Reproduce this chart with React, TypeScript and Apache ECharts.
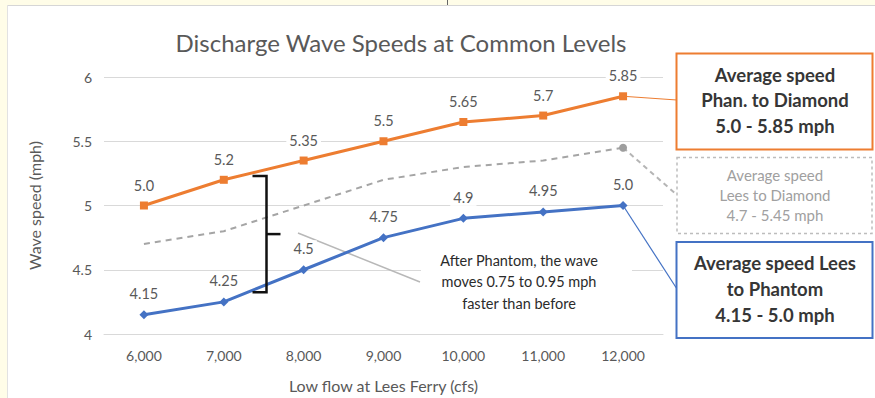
import React, { useEffect, useRef } from "react";
import * as echarts from "echarts";

// Low flow at Lees Ferry (cfs)
const categories = ["6,000", "7,000", "8,000", "9,000", "10,000", "11,000", "12,000"];
// Average discharge wave speed (mph) for each reach
const phantomToDiamond = [5.0, 5.2, 5.35, 5.5, 5.65, 5.7, 5.85];
const leesToPhantom = [4.15, 4.25, 4.5, 4.75, 4.9, 4.95, 5.0];
const leesToDiamond = [4.7, 4.8, 5.0, 5.2, 5.3, 5.35, 5.45];

// Speed-up bracket between the two reaches, drawn halfway between 7,000 and 8,000 cfs
const bracketTop = 5.23;
const bracketBottom = 4.325;

const FONT = "Lato, 'Open Sans', sans-serif";
const ORANGE = "#ED7D31";
const BLUE = "#4472C4";
const GRAY = "#A5A5A5";
const TEXT = "#595959";

const fmt = (v: number) => (Number.isInteger(v) ? v.toFixed(1) : String(v));

export default function App() {
  const ref = useRef<HTMLDivElement>(null);

  useEffect(() => {
    if (!ref.current) return;
    const chart = echarts.init(ref.current, undefined, { renderer: "svg" });

    const label = {
      show: true,
      position: "top" as const,
      distance: 8,
      fontFamily: FONT,
      fontSize: 14.5,
      color: TEXT,
      backgroundColor: "#fff",
      padding: [1, 3],
      formatter: (p: any) => fmt(p.value as number),
    };
    const last = categories.length - 1;

    chart.setOption({
      animation: false,
      backgroundColor: "#fff",
      textStyle: { fontFamily: FONT },
      grid: { left: 104, right: 212, top: 77, bottom: 63 },
      xAxis: {
        type: "category",
        data: categories,
        boundaryGap: true,
        axisLine: { lineStyle: { color: "#D9D9D9", width: 1 } },
        axisTick: { show: false },
        axisLabel: { color: TEXT, fontSize: 14, margin: 14, fontFamily: FONT },
        name: "Low flow at Lees Ferry (cfs)",
        nameLocation: "middle",
        nameGap: 43,
        nameTextStyle: { color: TEXT, fontSize: 16, fontFamily: FONT },
      },
      yAxis: {
        type: "value",
        min: 4,
        max: 6,
        interval: 0.5,
        axisLine: { show: false },
        axisTick: { show: false },
        splitLine: { lineStyle: { color: "#D9D9D9", width: 1 } },
        axisLabel: { color: TEXT, fontSize: 14, margin: 12, fontFamily: FONT },
        name: "Wave speed (mph)",
        nameLocation: "middle",
        nameGap: 62,
        nameTextStyle: { color: TEXT, fontSize: 16, fontFamily: FONT },
      },
      series: [
        {
          name: "Lees to Diamond",
          type: "line",
          data: leesToDiamond,
          symbol: "circle",
          symbolSize: (_v: any, p: any) => (p.dataIndex === last ? 8 : 0),
          itemStyle: { color: "#9E9E9E" },
          lineStyle: { color: GRAY, width: 2, type: [6, 5] },
          z: 1,
        },
        {
          name: "Phan. to Diamond",
          type: "line",
          data: phantomToDiamond,
          symbol: "rect",
          symbolSize: 8,
          itemStyle: { color: ORANGE },
          lineStyle: { color: ORANGE, width: 3 },
          label,
          z: 3,
        },
        {
          name: "Lees to Phantom",
          type: "line",
          data: leesToPhantom,
          symbol: "diamond",
          symbolSize: 9,
          itemStyle: { color: BLUE },
          lineStyle: { color: BLUE, width: 3 },
          label,
          z: 3,
        },
      ],
    });

    const px = (i: number, v: number) =>
      chart.convertToPixel({ gridIndex: 0 }, [i, v]) as number[];
    const pOrange = px(last, phantomToDiamond[last]);
    const pBlue = px(last, leesToPhantom[last]);
    const pGray = px(last, leesToDiamond[last]);
    const bx = Math.round((px(1, 5)[0] + px(2, 5)[0]) / 2) + 2.5;
    const bTop = px(1, bracketTop)[1];
    const bBot = px(1, bracketBottom)[1];
    const bMid = (bTop + bBot) / 2;

    const BOX_X = 677;
    const BOX_W = 196;
    const CX = BOX_X + BOX_W / 2;

    const lines = (ys: number[], texts: string[], style: any) =>
      texts.map((t, k) => ({
        type: "text",
        z: 5,
        style: {
          text: t,
          x: CX,
          y: ys[k],
          align: "center",
          verticalAlign: "middle",
          fontFamily: FONT,
          ...style,
        },
      }));

    const boldBox = { fontSize: 18.5, fontWeight: "bold", fill: "#363636" };

    chart.setOption({
      graphic: [
        // page frame
        { type: "rect", z: 10, shape: { x: 0, y: 0, width: 875, height: 5 }, style: { fill: "#FFFDE8" } },
        { type: "rect", z: 10, shape: { x: 0, y: 0, width: 7, height: 398 }, style: { fill: "#FFFDE8" } },
        { type: "line", z: 10, shape: { x1: 7, y1: 5.5, x2: 875, y2: 5.5 }, style: { stroke: "#D6D6D6", lineWidth: 1 } },
        { type: "line", z: 10, shape: { x1: 7.5, y1: 5, x2: 7.5, y2: 398 }, style: { stroke: "#E2E2E2", lineWidth: 1 } },
        { type: "line", z: 10, shape: { x1: 447.5, y1: 0, x2: 447.5, y2: 5 }, style: { stroke: "#666", lineWidth: 1 } },

        // title
        {
          type: "text",
          z: 5,
          style: {
            text: "Discharge Wave Speeds at Common Levels",
            x: 401,
            y: 42,
            align: "center",
            verticalAlign: "middle",
            fontFamily: FONT,
            fontSize: 24,
            fill: TEXT,
          },
        },

        // connectors from the last points to the callouts
        { type: "line", z: 1, shape: { x1: pOrange[0], y1: pOrange[1], x2: BOX_X, y2: 100 }, style: { stroke: ORANGE, lineWidth: 1.2 } },
        { type: "line", z: 1, shape: { x1: pGray[0], y1: pGray[1], x2: BOX_X, y2: 195 }, style: { stroke: "#B5B5B5", lineWidth: 2, lineDash: [5, 4] } },
        { type: "line", z: 1, shape: { x1: pBlue[0], y1: pBlue[1], x2: BOX_X, y2: 289 }, style: { stroke: BLUE, lineWidth: 1.2 } },

        // callout boxes
        { type: "rect", z: 4, shape: { x: BOX_X - 0.5, y: 53.5, width: BOX_W, height: 96 }, style: { fill: "#fff", stroke: ORANGE, lineWidth: 2 } },
        ...lines([75, 100, 126], ["Average speed", "Phan. to Diamond", "5.0 - 5.85 mph"], boldBox),
        { type: "rect", z: 4, shape: { x: BOX_X, y: 157.5, width: BOX_W - 1, height: 76 }, style: { fill: "#fff", stroke: "#BDBDBD", lineWidth: 1.5, lineDash: [3, 3] } },
        ...lines([175, 195, 215], ["Average speed", "Lees to Diamond", "4.7 - 5.45 mph"], { fontSize: 15, fill: "#A0A0A0" }),
        { type: "rect", z: 4, shape: { x: BOX_X - 0.5, y: 242, width: BOX_W, height: 96 }, style: { fill: "#fff", stroke: BLUE, lineWidth: 2 } },
        ...lines([263, 289, 315], ["Average speed Lees", "to Phantom", "4.15 - 5.0 mph"], boldBox),

        // speed-up note
        { type: "rect", z: 1, shape: { x: 421, y: 248, width: 211, height: 66 }, style: { fill: "#fff" } },
        { type: "line", z: 1, shape: { x1: 298, y1: 233, x2: 420, y2: 282 }, style: { stroke: "#B8B8B8", lineWidth: 1.5 } },
        ...["After Phantom, the wave", "moves 0.75 to 0.95 mph", "faster than before"].map((t, k) => ({
          type: "text",
          z: 5,
          style: {
            text: t,
            x: 519,
            y: 260 + k * 21.5,
            align: "center",
            verticalAlign: "middle",
            fontFamily: FONT,
            fontSize: 14.5,
            fill: "#2B2B2B",
          },
        })),

        // bracket
        {
          type: "polyline",
          z: 6,
          shape: { points: [[bx - 14, bTop], [bx, bTop], [bx, bBot], [bx - 14, bBot]] },
          style: { stroke: "#111", lineWidth: 2.5, fill: null },
        },
        { type: "line", z: 6, shape: { x1: bx, y1: bMid, x2: bx + 14, y2: bMid }, style: { stroke: "#111", lineWidth: 2.5 } },
      ],
    });

    return () => chart.dispose();
  }, []);

  return (
    <div
      ref={ref}
      style={{ position: "fixed", left: 0, top: 0, width: 875, height: 398 }}
    />
  );
}
